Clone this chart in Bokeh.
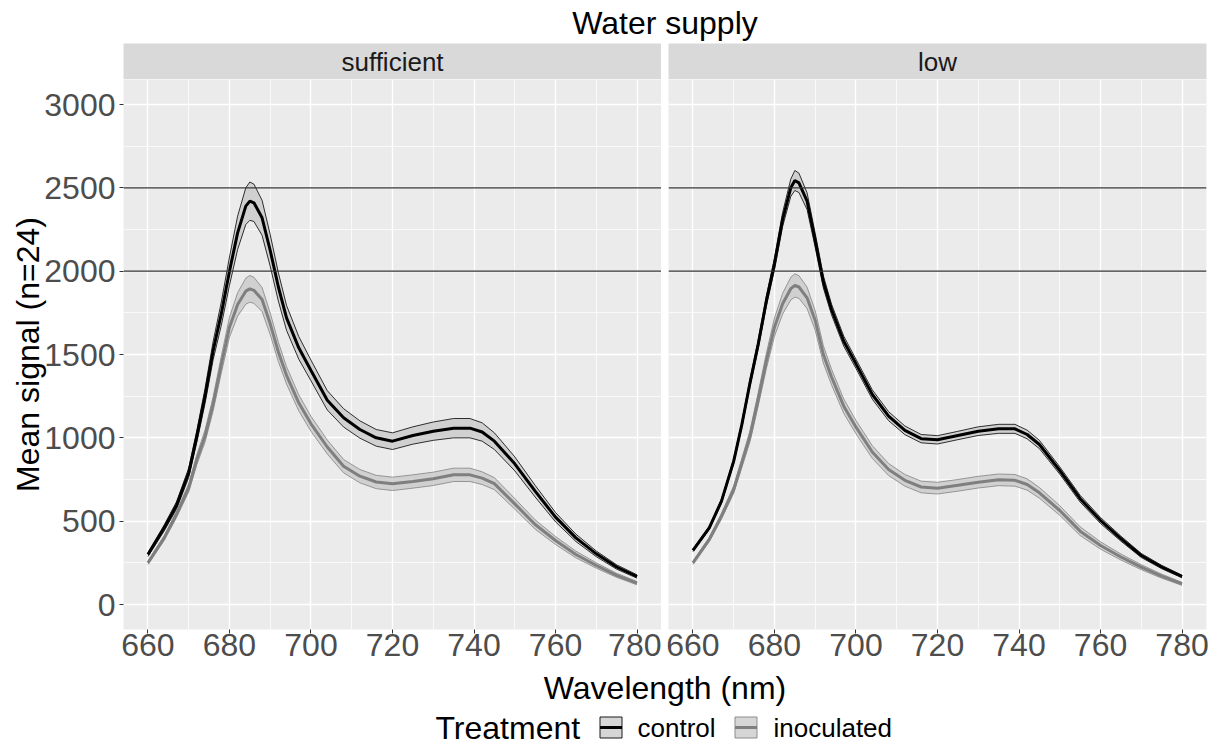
import numpy as np
from bokeh.plotting import figure
from bokeh.layouts import column, row
from bokeh.models import Range1d, FixedTicker, Span
from bokeh.embed import file_html
from bokeh.resources import INLINE
from bokeh.core.properties import value

FONT = "Liberation Sans"

# ---------------- data ----------------
title_text = "Water supply"
facets = ["sufficient", "low"]
treatments = ["control", "inoculated"]
x_label = "Wavelength (nm)"
y_label = "Mean signal (n=24)"
legend_title = "Treatment"
reference_levels = [2000, 2500]
x_ticks = [660, 680, 700, 720, 740, 760, 780]
x_minor = [670, 690, 710, 730, 750, 770]
y_ticks = [0, 500, 1000, 1500, 2000, 2500, 3000]
y_minor = [250, 750, 1250, 1750, 2250, 2750]

wavelength = [660, 664, 667, 670, 672, 674, 676, 678, 680, 682, 684, 685, 686, 688, 690,
              692, 694, 697, 700, 704, 708, 712, 716, 720, 725, 730, 735, 739, 742, 745,
              750, 755, 760, 765, 770, 775, 780]

control_sufficient = [300, 460, 594, 790, 1010, 1250, 1524, 1745, 2000, 2230, 2390, 2420, 2410, 2320, 2124,
                      1905, 1720, 1540, 1404, 1225, 1120, 1050, 1000, 980, 1014, 1040, 1058, 1058, 1035, 980,
                      844, 680, 524, 400, 304, 225, 168]
control_sufficient_se = [12, 18, 22, 28, 35, 45, 55, 70, 85, 100, 110, 115, 112, 105, 95,
                         85, 75, 68, 62, 58, 55, 52, 50, 50, 52, 55, 58, 58, 55, 50,
                         42, 35, 28, 22, 17, 13, 10]
inoculated_sufficient = [250, 400, 540, 700, 870, 1010, 1204, 1440, 1664, 1800, 1880, 1894, 1885, 1830, 1684,
                         1515, 1375, 1210, 1084, 945, 830, 770, 735, 724, 738, 754, 778, 778, 758, 725,
                         604, 480, 384, 300, 234, 175, 128]
inoculated_sufficient_se = [10, 14, 18, 24, 30, 36, 42, 50, 60, 70, 78, 80, 78, 72, 65,
                            58, 52, 48, 45, 42, 40, 40, 40, 40, 40, 40, 40, 40, 38, 36,
                            32, 28, 24, 20, 16, 12, 10]
control_low = [325, 460, 620, 860, 1080, 1330, 1560, 1820, 2044, 2310, 2500, 2544, 2530, 2420, 2184,
               1935, 1770, 1580, 1444, 1260, 1130, 1045, 995, 988, 1014, 1040, 1054, 1054, 1020, 960,
               804, 635, 504, 395, 294, 225, 168]
control_low_se = [8, 10, 12, 15, 18, 22, 26, 30, 35, 42, 52, 60, 58, 50, 42,
                  36, 32, 30, 28, 28, 27, 26, 25, 25, 25, 26, 27, 27, 26, 25,
                  22, 20, 18, 15, 12, 10, 8]
inoculated_low = [250, 390, 530, 690, 850, 1010, 1230, 1460, 1664, 1805, 1895, 1914, 1905, 1840, 1704,
                  1500, 1365, 1190, 1064, 915, 810, 745, 705, 698, 715, 734, 748, 745, 720, 670,
                  564, 440, 354, 285, 224, 170, 124]
inoculated_low_se = [10, 13, 17, 22, 27, 33, 40, 46, 55, 62, 68, 70, 68, 64, 58,
                     52, 47, 43, 40, 38, 36, 35, 35, 35, 35, 35, 35, 35, 34, 32,
                     29, 26, 22, 18, 15, 12, 9]

series = {
    "sufficient": {"control": (control_sufficient, control_sufficient_se),
                   "inoculated": (inoculated_sufficient, inoculated_sufficient_se)},
    "low": {"control": (control_low, control_low_se),
            "inoculated": (inoculated_low, inoculated_low_se)},
}

# ---------------- styles ----------------
line_colors = {"control": "#000000", "inoculated": "#7F7F7F"}
ribbon_edge = {"control": "#1A1A1A", "inoculated": "#8C8C8C"}
ribbon_fill = "#C4C4C4"
PANEL_BG = "#EBEBEB"
STRIP_BG = "#D9D9D9"

W = 1217
TITLE_H = 43
STRIP_H = 36
FRAME_H = 550
AX_B = 40
BOTTOM_H = 746 - TITLE_H - STRIP_H - FRAME_H - AX_B
LEFT1 = 123
FRAME_W = 538
W1 = LEFT1 + FRAME_W
LEFT2 = 7
W2 = W - W1

x_rng = (654, 786)
y_rng = (-150, 3150)


def make_panel(facet, width, left, right, show_y):
    p = figure(width=width, height=FRAME_H + AX_B,
               x_range=Range1d(*x_rng), y_range=Range1d(*y_rng),
               output_backend="svg", toolbar_location=None,
               y_axis_location="left" if show_y else None,
               min_border_left=left, min_border_right=right,
               min_border_top=0, min_border_bottom=AX_B)
    p.background_fill_color = PANEL_BG
    p.border_fill_color = "white"
    p.outline_line_color = None

    xt = FixedTicker(ticks=x_ticks, minor_ticks=x_minor)
    yt = FixedTicker(ticks=y_ticks, minor_ticks=y_minor)
    p.xaxis.ticker = xt
    p.xgrid.ticker = xt
    p.ygrid.ticker = yt
    for g in (p.xgrid[0], p.ygrid[0]):
        g.grid_line_color = "white"
        g.grid_line_width = 1.4
        g.minor_grid_line_color = "white"
        g.minor_grid_line_width = 0.7

    axes = list(p.xaxis)
    if show_y:
        p.yaxis.ticker = yt
        axes += list(p.yaxis)
    for ax in axes:
        ax.axis_line_color = None
        ax.major_tick_out = 4
        ax.major_tick_in = 0
        ax.minor_tick_out = 0
        ax.minor_tick_in = 0
        ax.major_tick_line_color = "#333333"
        ax.major_label_text_font = FONT
        ax.major_label_text_font_size = "32px"
        ax.major_label_text_color = "#4D4D4D"
    p.xaxis.major_label_standoff = 0
    if show_y:
        p.yaxis.major_label_standoff = 4
        p.yaxis.axis_label = y_label
        p.yaxis.axis_label_text_font = FONT
        p.yaxis.axis_label_text_font_size = "32px"
        p.yaxis.axis_label_text_font_style = "normal"
        p.yaxis.axis_label_text_color = "black"
        p.yaxis.axis_label_standoff = -5

    x = np.array(wavelength, dtype=float)
    for tr in treatments:
        m, se = series[facet][tr]
        m = np.array(m, dtype=float)
        se = np.array(se, dtype=float)
        p.varea(x=x, y1=m - se, y2=m + se, fill_color=ribbon_fill, fill_alpha=0.7)
        p.line(x, m - se, line_color=ribbon_edge[tr], line_width=0.9)
        p.line(x, m + se, line_color=ribbon_edge[tr], line_width=0.9)
    for tr in treatments:
        m, se = series[facet][tr]
        p.line(x, m, line_color=line_colors[tr], line_width=3)

    for lvl in reference_levels:
        p.add_layout(Span(location=lvl, dimension="width", line_color="#333333", line_width=1.1))
    return p


def make_strip(facet, width, left, right, xr):
    s = figure(width=width, height=STRIP_H, x_range=xr, y_range=Range1d(0, 1),
               output_backend="svg", toolbar_location=None,
               x_axis_location=None, y_axis_location=None,
               min_border_left=left, min_border_right=right,
               min_border_top=0, min_border_bottom=0)
    s.background_fill_color = STRIP_BG
    s.border_fill_color = "white"
    s.outline_line_color = None
    s.xgrid.visible = False
    s.ygrid.visible = False
    s.text(x=[sum(x_rng) / 2], y=[0.5], text=[facet], text_font=value(FONT),
           text_font_size="26px", text_color="#1A1A1A", text_align="center",
           text_baseline="middle")
    return s


p1 = make_panel(facets[0], W1, LEFT1, 0, True)
p2 = make_panel(facets[1], W2, LEFT2, W2 - LEFT2 - FRAME_W, False)
s1 = make_strip(facets[0], W1, LEFT1, 0, p1.x_range)
s2 = make_strip(facets[1], W2, LEFT2, W2 - LEFT2 - FRAME_W, p2.x_range)


def blank(height):
    f = figure(width=W, height=height, x_range=Range1d(0, W), y_range=Range1d(height, 0),
               output_backend="svg", toolbar_location=None,
               x_axis_location=None, y_axis_location=None,
               min_border_left=0, min_border_right=0, min_border_top=0, min_border_bottom=0)
    f.outline_line_color = None
    f.xgrid.visible = False
    f.ygrid.visible = False
    f.background_fill_color = "white"
    f.border_fill_color = "white"
    return f


CENTER_X = (LEFT1 + W1 + LEFT2 + FRAME_W) / 2

top = blank(TITLE_H)
top.text(x=[CENTER_X], y=[22], text=[title_text], text_font=value(FONT), text_font_size="32px",
         text_color="black", text_align="center", text_baseline="middle")

bottom = blank(BOTTOM_H)
bottom.text(x=[CENTER_X], y=[18], text=[x_label], text_font=value(FONT), text_font_size="32px",
            text_color="black", text_align="center", text_baseline="middle")
LEG_Y = 58
bottom.text(x=[435], y=[LEG_Y], text=[legend_title], text_font=value(FONT), text_font_size="32px",
            text_color="black", text_align="left", text_baseline="middle")
key_x = [610.5, 745.5]
lab_x = [637, 773]
for i, tr in enumerate(treatments):
    bottom.rect(x=[key_x[i]], y=[LEG_Y], width=22, height=21, fill_color=ribbon_fill, fill_alpha=0.7,
                line_color=ribbon_edge[tr], line_width=1)
    bottom.segment(x0=[key_x[i] - 11], y0=[LEG_Y], x1=[key_x[i] + 11], y1=[LEG_Y],
                   line_color=line_colors[tr], line_width=3)
    bottom.text(x=[lab_x[i]], y=[LEG_Y], text=[tr], text_font=value(FONT), text_font_size="26px",
                text_color="black", text_align="left", text_baseline="middle")

layout = column(top, row(s1, s2), row(p1, p2), bottom)
open("out.html", "w").write(file_html(layout, INLINE))
